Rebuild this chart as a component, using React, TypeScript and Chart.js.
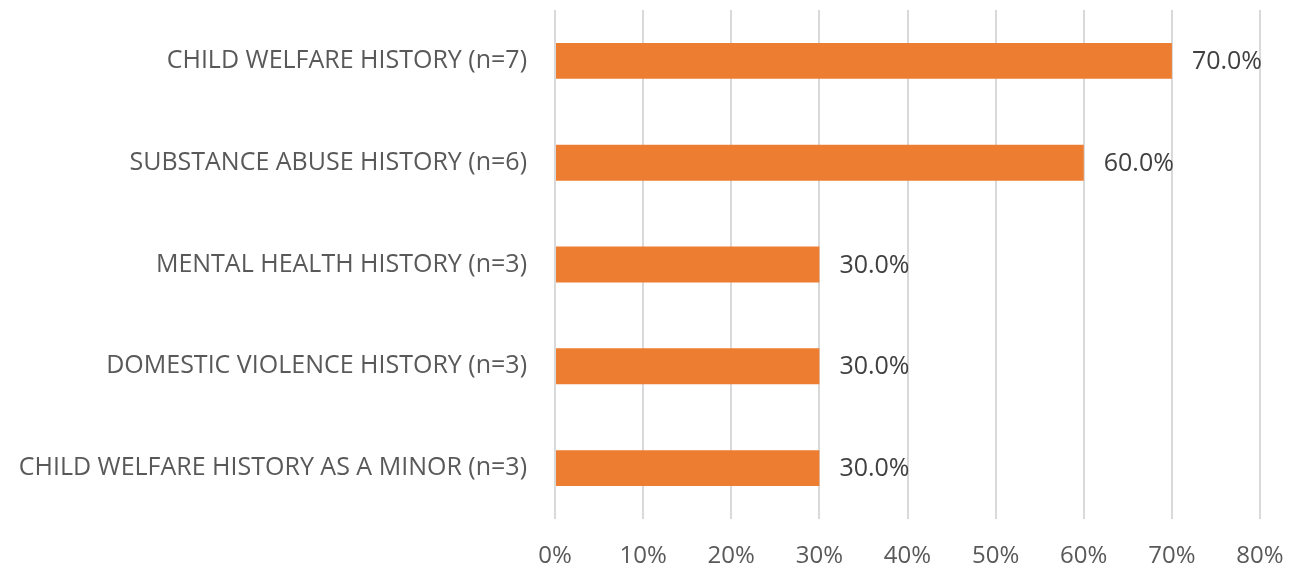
import React, { useEffect, useRef } from "react";
import { Chart, registerables } from "chart.js";

Chart.register(...registerables);

const categories = [
  "CHILD WELFARE HISTORY (n=7)",
  "SUBSTANCE ABUSE HISTORY (n=6)",
  "MENTAL HEALTH HISTORY (n=3)",
  "DOMESTIC VIOLENCE HISTORY (n=3)",
  "CHILD WELFARE HISTORY AS A MINOR (n=3)",
];
const values = [70, 60, 30, 30, 30];
const xTicks = [0, 10, 20, 30, 40, 50, 60, 70, 80];

const FONT = "'Open Sans', 'Liberation Sans', sans-serif";
const TEXT = "#595959";

const labelPlugin = {
  id: "barLabels",
  afterDatasetsDraw(chart: any) {
    const ctx = chart.ctx;
    const meta = chart.getDatasetMeta(0);
    ctx.save();
    ctx.font = `25px ${FONT}`;
    ctx.fillStyle = "#404040";
    ctx.textAlign = "left";
    ctx.textBaseline = "middle";
    meta.data.forEach((bar: any, i: number) => {
      ctx.fillText(values[i].toFixed(1) + "%", bar.x + 20, bar.y + 1);
    });
    ctx.restore();
  },
};

export default function App() {
  const ref = useRef<HTMLCanvasElement>(null);
  useEffect(() => {
    document.body.style.margin = "0";
    const chart = new Chart(ref.current!, {
      type: "bar",
      data: {
        labels: categories,
        datasets: [
          {
            data: values,
            backgroundColor: "#ED7D31",
            categoryPercentage: 1,
            barPercentage: 0.353,
          },
        ],
      },
      options: {
        indexAxis: "y",
        animation: false,
        responsive: false,
        layout: { padding: { left: 0, right: 33, top: 10, bottom: 0 } },
        plugins: { legend: { display: false }, tooltip: { enabled: false } },
        scales: {
          x: {
            min: 0,
            max: 80,
            afterBuildTicks(scale: any) {
              scale.ticks = xTicks.map((v) => ({ value: v }));
            },
            afterFit(scale: any) {
              scale.height = 54;
              scale.paddingTop = 0;
              scale.paddingBottom = 0;
              scale.paddingLeft = 0;
              scale.paddingRight = 0;
            },
            grid: { color: "#d9d9d9", lineWidth: 2, drawTicks: false },
            border: { display: false },
            ticks: {
              color: TEXT,
              font: { family: FONT, size: 24 },
              padding: 23,
              callback: (v: any) => v + "%",
            },
          },
          y: {
            afterFit(scale: any) {
              scale.width = 555;
              scale.paddingTop = 0;
              scale.paddingBottom = 0;
            },
            grid: { display: false },
            border: { display: false },
            ticks: {
              color: TEXT,
              font: { family: FONT, size: 25 },
              padding: 20,
            },
          },
        },
      },
      plugins: [labelPlugin],
    });
    return () => chart.destroy();
  }, []);
  return (
    <div style={{ position: "absolute", left: 0, top: 0, width: 1293, height: 573, background: "#fff" }}>
      <canvas ref={ref} width={1293} height={573} />
    </div>
  );
}
